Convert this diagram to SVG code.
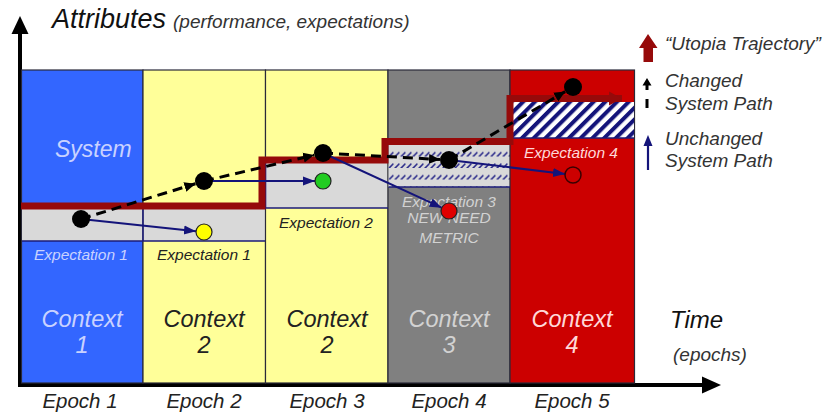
<svg xmlns="http://www.w3.org/2000/svg" width="828" height="417" viewBox="0 0 828 417">
  <style>
    text { font-family: "Liberation Sans", Arial, sans-serif; font-style: italic; }
    .col { stroke: #2a2a3a; stroke-width: 1.2; }
    .band { fill: #d9d9d9; }
    .edge { stroke: #1c1c78; stroke-width: 1.6; fill: none; }
    .ctx { font-size: 23.5px; text-anchor: middle; }
    .exp { font-size: 15.5px; text-anchor: middle; }
    .epoch { font-size: 20.5px; text-anchor: middle; fill: #222; }
    .legend { font-size: 19px; fill: #333; }
    .changed { stroke: #000; stroke-width: 3; stroke-dasharray: 10 6; fill: none; }
    .unchanged { stroke: #14147a; stroke-width: 2; fill: none; }
    .dot { fill: #000; }
    .light-blue { fill: #c9d2ff; }
    .light-gray { fill: #d2d2d2; }
    .light-pink { fill: #ffd8d8; }
    .dark { fill: #222; }
  </style>
  <defs>
    <marker id="headBlack" markerUnits="userSpaceOnUse" markerWidth="12" markerHeight="12" viewBox="0 0 12 12" refX="11" refY="6" orient="auto">
      <path d="M0,1 L11,6 L0,11 Z" fill="#000"/>
    </marker>
    <marker id="headNavy" markerUnits="userSpaceOnUse" markerWidth="13" markerHeight="12" viewBox="0 0 13 12" refX="12" refY="6" orient="auto">
      <path d="M0,1.5 L12,6 L0,10.5 Z" fill="#14147a"/>
    </marker>
    <marker id="headRed" markerUnits="userSpaceOnUse" markerWidth="14" markerHeight="16" viewBox="0 0 14 16" refX="13" refY="8" orient="auto">
      <path d="M0,1 L13,8 L0,15 Z" fill="#960a0a"/>
    </marker>
    <pattern id="dashHatch" patternUnits="userSpaceOnUse" x="388" y="145" width="6" height="11.5">
      <line x1="0.6" y1="12" x2="5.4" y2="7.2" stroke="#2a2a8a" stroke-width="1.6"/>
    </pattern>
    <pattern id="stripeHatch" patternUnits="userSpaceOnUse" width="8.3" height="8.3" patternTransform="rotate(45)">
      <rect x="0" y="0" width="4" height="8.3" fill="#14147a"/>
    </pattern>
  </defs>

  <!-- axes -->
  <g id="axes">
    <line x1="20" y1="387" x2="20" y2="32" stroke="#000" stroke-width="4"/>
    <polygon points="20,16 11.5,34 28.5,34" fill="#000"/>
    <line x1="18" y1="385" x2="704" y2="385" stroke="#000" stroke-width="4"/>
    <polygon points="721,385 702,376.5 702,393.5" fill="#000"/>
    <text x="52" y="28" font-size="27" fill="#111">Attributes</text>
    <text x="173" y="28" font-size="19" fill="#333">(performance, expectations)</text>
    <text x="670" y="328" font-size="24" fill="#111">Time</text>
    <text x="673" y="361" font-size="19" fill="#333">(epochs)</text>
  </g>

  <!-- epoch columns -->
  <g id="epoch1">
    <rect class="col" x="21.5" y="70" width="121.5" height="313" fill="#3366ff"/>
    <rect class="band" x="22" y="209" width="121" height="32"/>
    <text class="light-blue" x="55" y="157" font-size="23">System</text>
    <text class="exp light-blue" x="81" y="260">Expectation 1</text>
    <text class="ctx light-blue" x="82" y="327">Context</text>
    <text class="ctx light-blue" x="82" y="353">1</text>
    <text class="epoch" x="80" y="408">Epoch 1</text>
  </g>
  <g id="epoch2">
    <rect class="col" x="143" y="70" width="122.5" height="313" fill="#ffff99"/>
    <rect class="band" x="143.5" y="209" width="121.5" height="32"/>
    <text class="exp dark" x="204" y="260">Expectation 1</text>
    <text class="ctx dark" x="204" y="327">Context</text>
    <text class="ctx dark" x="204" y="353">2</text>
    <text class="epoch" x="204" y="408">Epoch 2</text>
  </g>
  <g id="epoch3">
    <rect class="col" x="265.5" y="70" width="122.5" height="313" fill="#ffff99"/>
    <rect class="band" x="266" y="162" width="121.5" height="46"/>
    <text class="exp dark" x="326" y="228">Expectation 2</text>
    <text class="ctx dark" x="327" y="327">Context</text>
    <text class="ctx dark" x="327" y="353">2</text>
    <text class="epoch" x="327" y="408">Epoch 3</text>
  </g>
  <g id="epoch4">
    <rect class="col" x="388" y="70" width="122" height="313" fill="#808080"/>
    <rect class="band" x="388.5" y="145" width="121.5" height="42"/>
    <rect x="388.5" y="145" width="121.5" height="42" fill="url(#dashHatch)"/>
    <text class="exp light-gray" x="449" y="207">Expectation 3</text>
    <text class="exp light-gray" x="449" y="223">NEW NEED</text>
    <text class="exp light-gray" x="449" y="243">METRIC</text>
    <text class="ctx light-gray" x="449" y="327">Context</text>
    <text class="ctx light-gray" x="449" y="353">3</text>
    <text class="epoch" x="449" y="408">Epoch 4</text>
  </g>
  <g id="epoch5">
    <rect class="col" x="510" y="70" width="124.5" height="313" fill="#cc0000"/>
    <rect x="512" y="102" width="122" height="36" fill="#ffffff"/>
    <rect x="512" y="102" width="122" height="36" fill="url(#stripeHatch)"/>
    <text class="exp light-pink" x="571" y="158">Expectation 4</text>
    <text class="ctx light-pink" x="572" y="327">Context</text>
    <text class="ctx light-pink" x="572" y="353">4</text>
    <text class="epoch" x="572" y="408">Epoch 5</text>
  </g>

  <!-- expectation band outlines -->
  <g id="band-edges">
    <path class="edge" d="M22,241 H265 M143,209 V241"/>
    <path class="edge" d="M265.5,162 V208 H388"/>
    <path class="edge" d="M388.5,187 H510"/>
    <path class="edge" d="M512,138 H634"/>
  </g>

  <!-- utopia trajectory -->
  <g id="utopia-trajectory">
    <path d="M21,206 H262 V160 H385 V141.5 H510 V98.5 H622" fill="none" stroke="#960a0a" stroke-width="7" stroke-linejoin="miter" marker-end="url(#headRed)"/>
  </g>

  <!-- system paths -->
  <g id="connectors">
    <line class="changed" x1="81" y1="219" x2="195.4" y2="183.7" marker-end="url(#headBlack)"/>
    <line class="changed" x1="204" y1="181" x2="314.2" y2="155.1" marker-end="url(#headBlack)"/>
    <line class="changed" x1="323" y1="153" x2="440" y2="159.5" marker-end="url(#headBlack)"/>
    <line class="changed" x1="449" y1="160" x2="565.2" y2="91.6" marker-end="url(#headBlack)"/>
    <line class="unchanged" x1="81" y1="219" x2="196" y2="231.2" marker-end="url(#headNavy)"/>
    <line class="unchanged" x1="204" y1="181" x2="315" y2="181" marker-end="url(#headNavy)"/>
    <line class="unchanged" x1="323" y1="153" x2="441.7" y2="207.7" marker-end="url(#headNavy)"/>
    <line class="unchanged" x1="449" y1="160" x2="565" y2="174" marker-end="url(#headNavy)"/>
  </g>

  <!-- system states -->
  <g id="state1"><circle class="dot" cx="81" cy="219" r="9"/></g>
  <g id="state2"><circle class="dot" cx="204" cy="181" r="9"/></g>
  <g id="state3"><circle class="dot" cx="323" cy="153" r="9"/></g>
  <g id="state4"><circle class="dot" cx="449" cy="160" r="9"/></g>
  <g id="state5"><circle class="dot" cx="573" cy="87" r="9"/></g>
  <g id="outcome2"><circle cx="204" cy="232" r="8" fill="#ffff00" stroke="#222" stroke-width="1.2"/></g>
  <g id="outcome3"><circle cx="323" cy="181" r="8" fill="#22cc22" stroke="#222" stroke-width="1.2"/></g>
  <g id="outcome4"><circle cx="449" cy="211" r="8" fill="#e00000" stroke="#222" stroke-width="1.2"/></g>
  <g id="outcome5"><circle cx="573" cy="175" r="8" fill="#cc0000" stroke="#3a0000" stroke-width="1.5"/></g>

  <!-- legend -->
  <g id="legend">
    <polygon points="648,34 657.5,48 653,48 653,62 643.5,62 643.5,48 639,48" fill="#960a0a"/>
    <text class="legend" x="665" y="50">“Utopia Trajectory”</text>
    <polygon points="647,78 651.5,85.5 648.5,85.5 648.5,90 645.5,90 645.5,85.5 642.5,85.5" fill="#000"/>
    <line x1="647" y1="99" x2="647" y2="108" stroke="#000" stroke-width="3"/>
    <text class="legend" x="665" y="87">Changed</text>
    <text class="legend" x="665" y="110">System Path</text>
    <line x1="648" y1="144" x2="648" y2="170" stroke="#14147a" stroke-width="2.2"/>
    <polygon points="648,135 652.5,146 643.5,146" fill="#14147a"/>
    <text class="legend" x="665" y="145">Unchanged</text>
    <text class="legend" x="665" y="167">System Path</text>
  </g>
</svg>
